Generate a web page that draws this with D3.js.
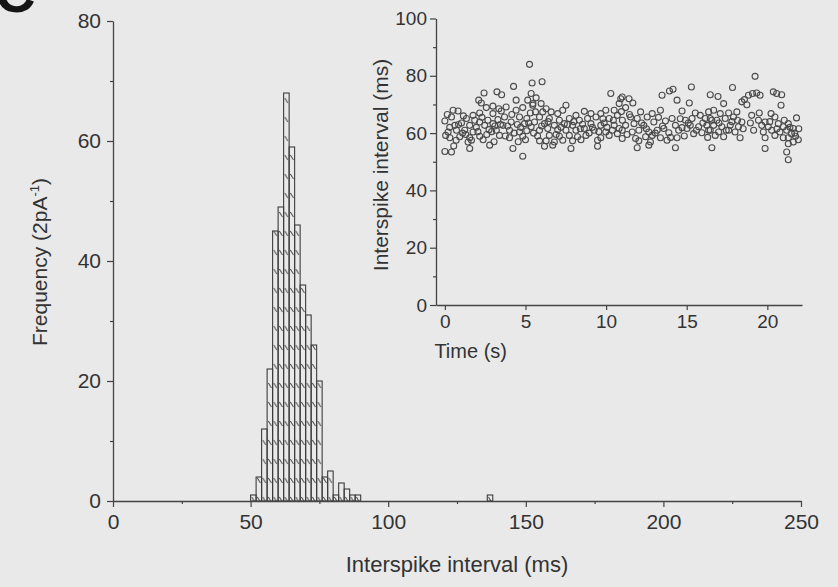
<!DOCTYPE html>
<html>
<head>
<meta charset="utf-8">
<script src="https://cdn.jsdelivr.net/npm/d3@7"></script>
<style>
  body { margin: 0; background: #e9e9e9; }
  text { font-family: "Liberation Sans", Arial, sans-serif; fill: #333; }
</style>
</head>
<body>
<script>
// histogram: bin start (ms) and count, bins are 2 ms wide
const binStart = [50, 52, 54, 56, 58, 60, 62, 64, 66, 68, 70, 72, 74, 76, 78, 80, 82, 84, 86, 88, 136];
const binCount = [1, 4, 12, 22, 45, 49, 68, 59, 46, 36, 31, 26, 20, 4, 5, 1, 3, 2, 1, 1, 1];
const binWidth = 2;

// inset: [time (s), interspike interval (ms)]
const isiPoints = [
  [0.0,53.6],[0.0,64.2],[0.05,59.2],[0.15,66.5],[0.2,60.4],[0.3,62.0],[0.31,58.4],[0.41,65.6],[0.41,53.4],
  [0.51,68.0],[0.55,55.5],[0.62,62.7],[0.7,57.5],[0.72,61.0],[0.82,67.7],[0.85,63.0],[0.92,58.7],[1.03,63.5],
  [1.1,60.0],[1.15,66.0],[1.23,61.0],[1.3,59.5],[1.34,65.1],[1.44,56.9],[1.54,62.7],[1.54,58.4],[1.54,54.6],
  [1.65,57.5],[1.75,66.2],[1.75,60.4],[1.85,64.5],[1.95,62.0],[2.05,60.5],[2.1,71.5],[2.16,67.0],[2.16,63.9],
  [2.16,58.9],[2.26,70.5],[2.3,65.5],[2.37,57.7],[2.43,74.0],[2.47,62.7],[2.57,68.9],[2.6,59.5],[2.67,64.5],
  [2.74,61.2],[2.78,55.8],[2.9,60.5],[2.98,69.4],[2.98,66.8],[2.98,63.3],[3.05,57.0],[3.1,62.5],[3.19,61.0],
  [3.23,74.4],[3.29,64.7],[3.35,68.5],[3.39,59.2],[3.45,63.0],[3.5,67.7],[3.52,73.4],[3.6,62.7],[3.7,65.6],
  [3.75,59.0],[3.8,69.1],[3.9,62.5],[4.01,61.0],[4.01,58.4],[4.11,63.9],[4.15,66.5],[4.22,54.6],[4.26,76.3],
  [4.3,60.0],[4.42,71.5],[4.42,68.0],[4.5,63.0],[4.55,57.0],[4.63,65.6],[4.63,60.4],[4.7,62.0],[4.83,68.9],
  [4.83,58.9],[4.83,51.9],[4.94,63.3],[5.0,57.7],[5.08,65.1],[5.08,60.8],[5.14,71.5],[5.2,63.5],[5.25,84.0],
  [5.3,67.0],[5.35,73.8],[5.35,62.2],[5.41,77.5],[5.45,69.7],[5.5,60.0],
  [5.46,70.3],[5.56,63.9],[5.62,67.4],[5.66,72.3],[5.75,59.0],[5.87,65.6],[5.87,61.0],[5.87,57.3],[5.97,70.3],
  [6.0,62.5],[6.03,77.9],[6.07,67.4],[6.18,63.3],[6.18,55.4],[6.28,68.5],[6.28,57.3],[6.38,61.6],[6.4,64.0],
  [6.48,65.1],[6.48,59.2],[6.59,67.4],[6.69,55.8],[6.79,62.7],[6.79,56.9],[6.9,59.5],[7.0,66.8],[7.0,61.2],
  [7.1,64.5],[7.1,58.9],[7.2,62.0],[7.31,68.0],[7.31,57.5],[7.41,63.3],[7.51,69.7],[7.51,61.0],[7.6,63.0],
  [7.72,65.1],[7.72,59.2],[7.82,54.6],[7.92,62.7],[7.92,57.3],[8.0,64.0],[8.13,66.2],[8.13,61.0],[8.23,58.7],
  [8.34,64.5],[8.4,61.5],[8.44,57.7],[8.54,63.1],[8.65,67.6],[8.65,61.6],[8.75,59.2],[8.85,65.1],[8.95,60.0],
  [9.06,66.8],[9.06,63.3],[9.15,62.0],[9.26,61.0],[9.37,65.6],[9.47,57.5],[9.47,55.4],[9.55,60.5],[9.67,66.8],
  [9.67,62.7],[9.67,58.4],[9.8,65.0],[9.88,63.5],[9.98,68.0],[9.98,60.4],[10.05,62.0],[10.19,65.1],
  [10.19,59.2],[10.29,73.8],[10.39,61.0],[10.45,64.5],[10.5,68.0],[10.5,62.7],[10.7,66.2],[10.7,59.8],
  [10.81,70.3],[10.81,61.6],[10.91,72.0],[10.95,67.5],[11.01,64.5],
  [11.0,72.6],[11.0,61.0],[11.0,58.1],[11.21,68.9],[11.21,62.7],[11.3,59.5],[11.42,72.0],[11.45,66.5],
  [11.52,65.6],[11.62,60.4],[11.66,70.5],[11.73,63.3],[11.83,58.1],[11.93,65.1],[11.93,54.9],[12.03,61.0],
  [12.03,57.3],[12.14,67.4],[12.2,63.5],[12.34,62.7],[12.45,58.7],[12.5,61.5],[12.55,65.6],[12.65,60.4],
  [12.65,55.8],[12.75,56.9],[12.86,66.8],[12.86,59.2],[12.96,63.9],[13.05,60.0],[13.17,61.0],[13.25,65.5],
  [13.37,68.0],[13.37,58.4],[13.47,73.2],[13.5,62.5],[13.58,61.6],[13.68,64.2],[13.78,57.5],[13.89,60.1],
  [13.93,74.7],[14.0,58.5],[14.09,65.1],[14.15,75.3],[14.3,62.7],[14.3,54.9],[14.4,71.5],[14.4,58.4],
  [14.5,61.0],[14.6,65.0],[14.71,67.7],[14.71,61.9],[14.85,59.0],[14.92,64.5],[15.02,61.6],[15.1,63.5],
  [15.16,70.5],[15.22,62.7],[15.29,76.1],[15.33,65.1],[15.43,59.8],[15.53,67.0],[15.6,61.0],[15.74,62.2],
  [15.84,66.2],[15.94,60.1],[16.0,63.5],[16.15,65.1],[16.25,62.7],[16.3,58.5],[16.36,67.4],[16.46,73.4],
  [16.46,61.0],[16.56,64.5],[16.56,54.9],
  [16.36,61.0],[16.46,65.1],[16.67,68.0],[16.67,62.7],[16.77,59.2],[16.87,64.5],[16.94,72.8],[16.98,60.4],
  [17.0,63.5],[17.08,66.8],[17.18,62.2],[17.29,70.3],[17.29,58.7],[17.39,65.1],[17.45,61.0],[17.6,67.0],
  [17.6,61.0],[17.7,62.7],[17.8,64.0],[17.84,75.9],[17.9,65.6],[18.0,60.4],[18.11,67.4],[18.15,64.5],
  [18.21,62.2],[18.31,58.4],[18.42,70.9],[18.42,63.9],[18.5,61.5],[18.58,71.7],[18.73,69.9],[18.83,73.2],
  [18.95,63.5],[19.03,66.2],[19.08,73.8],[19.15,61.0],[19.24,79.8],[19.34,74.0],[19.45,64.5],[19.5,67.0],
  [19.55,73.2],[19.65,62.7],[19.75,60.4],[19.86,63.9],[19.86,58.4],[19.86,54.6],[20.06,62.2],[20.15,64.0],
  [20.23,66.8],[20.27,61.0],[20.37,74.4],[20.47,65.6],[20.47,59.2],[20.58,73.8],[20.6,61.5],[20.68,63.3],
  [20.78,60.4],[20.85,69.7],[20.89,73.4],[20.99,62.2],[20.99,58.4],[21.05,64.5],[21.2,61.0],[21.2,53.4],
  [21.3,63.3],[21.3,58.4],[21.3,56.3],[21.3,50.7],[21.4,62.0],[21.5,59.8],[21.61,61.6],[21.61,56.9],
  [21.7,60.0],[21.75,58.9],[21.81,65.3],[21.92,57.7],[21.95,61.5]
];

// tick labels
const mainXTicks = [0, 50, 100, 150, 200, 250];
const mainXMinor = [25, 75, 125, 175, 225];
const mainYTicks = [0, 20, 40, 60, 80];
const mainYMinor = [10, 30, 50, 70];
const insetXTicks = [0, 5, 10, 15, 20];
const insetYTicks = [0, 20, 40, 60, 80, 100];
const insetYMinor = [10, 30, 50, 70, 90];

const width = 838, height = 587;
const ink = "#444";

const svg = d3.select("body").append("svg")
    .attr("width", width)
    .attr("height", height);

svg.append("rect").attr("width", width).attr("height", height).attr("fill", "#e9e9e9");

// panel letter, cut off at the top edge like in the scan
svg.append("text")
    .attr("x", -5).attr("y", 12)
    .attr("font-size", 56).attr("font-weight", "bold")
    .style("fill", "#151515")
    .text("C");

// main histogram
const x = d3.scaleLinear().domain([0, 250]).range([113, 801]);
const y = d3.scaleLinear().domain([0, 80]).range([501, 21]);

const binPx = x(binWidth) - x(0);
const defs = svg.append("defs");
const hatch = defs.append("pattern")
    .attr("id", "hatch")
    .attr("patternUnits", "userSpaceOnUse")
    .attr("x", x(50)).attr("y", 0)
    .attr("width", binPx).attr("height", 19);
hatch.append("path")
    .attr("d", `M1.2,3 L${binPx - 1.2},8`)
    .attr("stroke", "#4a4a4a").attr("stroke-width", 1);

const bins = binStart.map((s, i) => ({ start: s, count: binCount[i] }));

svg.append("g").selectAll("rect")
    .data(bins)
    .join("rect")
    .attr("x", d => x(d.start))
    .attr("y", d => y(d.count))
    .attr("width", d => x(d.start + binWidth) - x(d.start))
    .attr("height", d => y(0) - y(d.count))
    .attr("fill", "url(#hatch)")
    .attr("stroke", "#3c3c3c")
    .attr("stroke-width", 1.1);

function styleAxis(g, size) {
    g.selectAll("path.domain").attr("stroke", ink).attr("stroke-width", 1.3);
    g.selectAll(".tick line").attr("stroke", ink).attr("stroke-width", 1.2);
    g.selectAll(".tick text")
        .attr("font-family", "Liberation Sans, Arial, sans-serif")
        .attr("font-size", size)
        .attr("fill", "#333");
}

svg.append("g")
    .attr("transform", `translate(0,${y(0)})`)
    .call(d3.axisBottom(x).tickValues(mainXMinor).tickSize(3).tickFormat(""))
    .call(g => g.select(".domain").remove())
    .call(g => styleAxis(g, 20));

svg.append("g")
    .attr("transform", `translate(0,${y(0)})`)
    .call(d3.axisBottom(x).tickValues(mainXTicks).tickSize(6).tickSizeOuter(0).tickPadding(7))
    .call(g => styleAxis(g, 21));

svg.append("g")
    .attr("transform", `translate(${x(0)},0)`)
    .call(d3.axisLeft(y).tickValues(mainYMinor).tickSize(3).tickFormat(""))
    .call(g => g.select(".domain").remove())
    .call(g => styleAxis(g, 20));

svg.append("g")
    .attr("transform", `translate(${x(0)},0)`)
    .call(d3.axisLeft(y).tickValues(mainYTicks).tickSize(6).tickSizeOuter(0).tickPadding(6))
    .call(g => styleAxis(g, 21));

svg.append("text")
    .attr("x", (x(0) + x(250)) / 2).attr("y", 572)
    .attr("text-anchor", "middle")
    .attr("font-size", 22)
    .text("Interspike interval (ms)");

const yTitle = svg.append("text")
    .attr("transform", `translate(47,262) rotate(-90)`)
    .attr("text-anchor", "middle")
    .attr("font-size", 21);
yTitle.append("tspan").text("Frequency (2pA");
yTitle.append("tspan").attr("dy", -8).attr("font-size", 13).text("-1");
yTitle.append("tspan").attr("dy", 8).text(")");

// inset scatter
const xi = d3.scaleLinear().domain([-0.55, 22.15]).range([436, 802]);
const yi = d3.scaleLinear().domain([0, 100]).range([305, 18.5]);

svg.append("g").selectAll("circle")
    .data(isiPoints)
    .join("circle")
    .attr("cx", d => xi(d[0]))
    .attr("cy", d => yi(d[1]))
    .attr("r", 3)
    .attr("fill", "none")
    .attr("stroke", "#4a4a4a")
    .attr("stroke-width", 1.1);

svg.append("g")
    .attr("transform", `translate(0,${yi(0)})`)
    .call(d3.axisBottom(xi).tickValues(insetXTicks).tickSize(5).tickSizeOuter(0).tickPadding(5))
    .call(g => styleAxis(g, 19));

svg.append("g")
    .attr("transform", `translate(${xi(-0.55)},0)`)
    .call(d3.axisLeft(yi).tickValues(insetYMinor).tickSize(3).tickFormat(""))
    .call(g => g.select(".domain").remove())
    .call(g => styleAxis(g, 19));

svg.append("g")
    .attr("transform", `translate(${xi(-0.55)},0)`)
    .call(d3.axisLeft(yi).tickValues(insetYTicks).tickSize(6).tickSizeOuter(0).tickPadding(3))
    .call(g => styleAxis(g, 19));

svg.append("text")
    .attr("x", xi(1.6)).attr("y", 358)
    .attr("text-anchor", "middle")
    .attr("font-size", 20)
    .text("Time (s)");

svg.append("text")
    .attr("transform", `translate(388,165) rotate(-90)`)
    .attr("text-anchor", "middle")
    .attr("font-size", 21)
    .text("Interspike interval (ms)");
</script>
</body>
</html>
